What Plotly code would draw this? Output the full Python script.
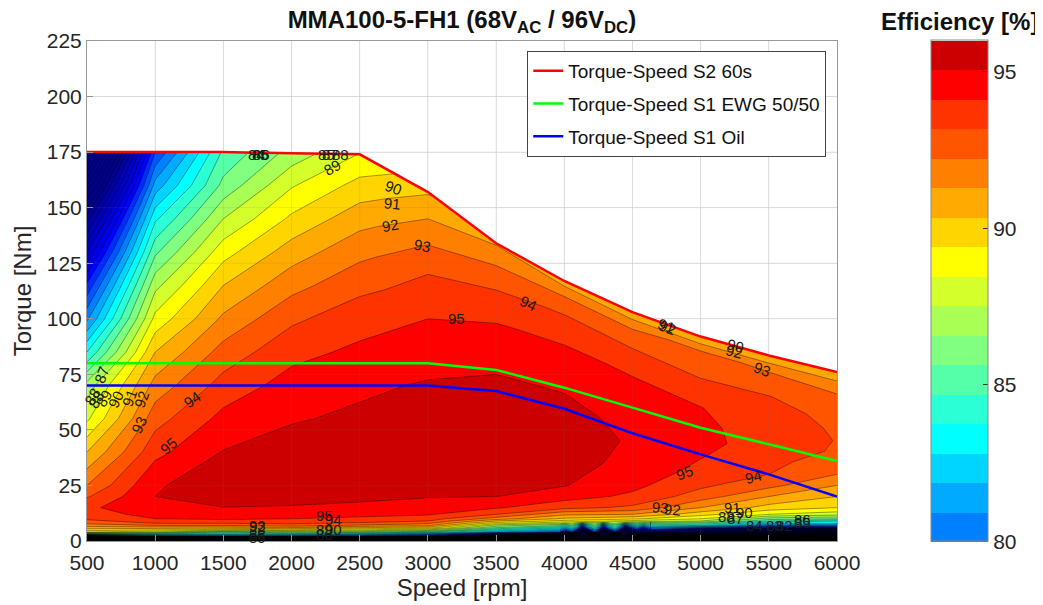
import plotly.graph_objects as go

speeds = [500, 1000, 1500, 2000, 2500, 3000, 3500, 4000, 4500, 5000, 5500, 6000]
low_torque = [0, 1, 2, 3, 4, 5, 6, 7, 8, 9, 10, 12, 15, 20, 25]
# upper torque rows, one list per speed
upper_torque = [
    [40, 55, 70, 85, 100, 115, 130, 145, 160, 175],
    [40, 55, 70, 85, 100, 115, 130, 145, 160, 175],
    [40, 55, 70, 85, 100, 115, 130, 145, 160, 175],
    [40, 55, 70, 85, 100, 115, 130, 145, 160, 174.5],
    [40, 55, 70, 85, 100, 115, 130, 145, 160, 174],
    [40, 55, 70, 85, 100, 110, 120, 132, 145, 157],
    [40, 55, 70, 80, 92, 100, 108, 116, 125, 134],
    [35, 45, 55, 65, 75, 85, 93, 101, 110, 117],
    [35, 45, 55, 62, 70, 77, 84, 91, 97, 103],
    [30, 38, 45, 52, 60, 66, 72, 78, 85, 92],
    [30, 36, 42, 48, 54, 60, 65, 71, 77, 83.5],
    [30, 35, 40, 45, 50, 55, 60, 65, 70, 76],
]
# efficiency per speed, bottom to top
eff_by_speed = [
    [0, 30, 70, 83, 89, 90.5, 91.5, 92.5, 93.2, 93.7, 94.2, 94.6, 94.85, 93.9, 93.0, 91, 88.8, 87.4, 84, 80.8, 78.2, 75, 71.5, 67, 62],
    [0, 45, 78, 84, 88, 90, 91.5, 93, 94, 94.6, 95, 95.3, 95.6, 96.0, 95.9, 94.7, 93.6, 92.4, 91, 89.3, 87.7, 85.8, 83.8, 81.4, 79],
    [0, 50, 79, 83.5, 86, 89.5, 91.5, 93, 94, 94.8, 95.1, 95.5, 95.98, 96.4, 96.5, 96.05, 95.3, 94.4, 93.4, 92.2, 91, 89.6, 88, 86.3, 85.2],
    [0, 50, 79, 84, 87, 90, 92, 93.5, 94.2, 94.8, 95, 95.4, 95.9, 96.4, 96.6, 96.5, 95.9, 95.4, 94.7, 93.8, 92.65, 91.5, 90.2, 88.9, 87.4],
    [0, 50, 78, 83, 86.5, 89, 91, 92.8, 93.8, 94.5, 94.85, 95.2, 95.8, 96.2, 96.6, 96.6, 96.2, 95.8, 95.2, 94.6, 93.7, 92.7, 91.6, 90.35, 89.05],
    [0, 50, 76, 81, 85, 88, 90.5, 92.2, 93.2, 94, 94.5, 95.1, 95.6, 96.05, 96.4, 96.7, 96.4, 96.1, 95.5, 95.0, 94.5, 94.0, 93.1, 92, 90.9],
    [0, 30, 60, 75, 82, 84, 86, 87.5, 89.5, 91, 92.5, 94, 95.1, 96.0, 96.25, 96.6, 96.4, 96.15, 95.85, 95.3, 94.9, 94.4, 93.75, 92.9, 91.9],
    [0, 30, 55, 70, 80, 82, 84, 86, 88, 89.7, 90.8, 92.2, 94.3, 95.4, 96.05, 96.4, 96.45, 96.3, 96.05, 95.7, 95.2, 94.7, 94.1, 93, 91.5],
    [0, 25, 50, 65, 76, 80, 82.5, 84.5, 86.5, 88.7, 90.2, 92, 93.8, 94.8, 95.25, 95.7, 95.9, 95.75, 95.5, 95.2, 94.85, 94.3, 93.5, 92.8, 91],
    [0, 20, 45, 60, 70, 74, 80, 84, 85.8, 88, 89, 90.4, 92, 93.5, 94.2, 94.7, 95.05, 95.35, 95.25, 95.03, 94.6, 94.1, 93.6, 93.15, 91],
    [0, 20, 40, 55, 64, 70, 77, 81, 83, 85, 86.5, 89, 90.6, 92, 93.3, 94.0, 94.25, 94.45, 94.45, 94.4, 94.3, 94.03, 93.5, 92.9, 91],
    [0, 15, 35, 50, 60, 68, 77, 81, 83, 84, 86, 88.4, 90, 91, 92, 93, 93.55, 93.9, 93.97, 93.9, 93.75, 93.5, 93.15, 92.5, 91],
]
# low-torque ripple between 4000 and 4600 rpm
ripple_speed = [3969, 4013, 4057, 4095, 4130, 4178, 4225, 4255, 4284, 4328, 4372, 4410, 4446, 4490, 4533, 4580, 4629]
ripple_torque = [1.5, 3, 4, 5.5, 7, 8.5]
ripple_eff = [
    [42, 42, 42, 42, 42, 42, 42, 42, 42, 42, 42, 42, 40, 40, 40, 40, 38],
    [66, 64, 62, 60, 58, 60, 62, 60, 58, 60, 62, 60, 58, 60, 62, 60, 60],
    [78, 76, 79, 72, 60, 72, 79, 72, 60, 72, 78, 72, 60, 70, 74, 70, 74],
    [82, 81, 83, 80, 72, 80, 83.2, 80, 72, 80, 82.8, 79, 70, 77, 80, 76, 80],
    [85, 84.5, 86, 84, 79, 84, 86, 84, 79, 84, 85.5, 83.5, 79, 82.5, 84, 82, 84],
    [88.8, 88.8, 88.7, 88.6, 88.5, 88.4, 88.3, 88.2, 88.1, 88, 87.9, 87.8, 87.7, 87.6, 87.5, 87.4, 87.3],
]
s2_torque = [175, 175, 175, 174.5, 174, 157, 134, 117, 103, 92, 83.5, 76]
s1_ewg_torque = [80, 80, 80, 80, 80, 80, 77, 69, 60, 51, 43.5, 36]
s1_oil_torque = [70, 70, 70, 70, 70, 70, 67.5, 59.5, 48.5, 39, 30, 20]

# colour of the filled band that starts at each level
band_colors = {
    96: "#cc0000", 95: "#ff0000", 94: "#ff3300", 93: "#ff5500", 92: "#ff8000", 91: "#ffaa00",
    90: "#ffd500", 89: "#ffff00", 88: "#d5ff2b", 87: "#aaff55", 86: "#80ff80", 85: "#55ffaa",
    84: "#2bffd5", 83: "#00ffff", 82: "#00d5ff", 81: "#00aaff", 80: "#0080ff", 79: "#0055ff",
    78: "#002bff", 77: "#0000ff", 76: "#0000e6", 75: "#0000d5", 74: "#0000c4", 73: "#0000b4",
    72: "#0000a4", 71: "#000094", 70: "#000088",
}
bar_levels = [80, 81, 82, 83, 84, 85, 86, 87, 88, 89, 90, 91, 92, 93, 94, 95, 96]

# (text, speed, torque, angle)
labels = [
    ("84", 1745, 174, 0), ("85", 1770, 174, 0), ("86", 1778, 174, 0),
    ("85", 2253, 174, 0), ("87", 2282, 174, 0), ("88", 2362, 174, 0),
    ("89", 2297, 168, -30), ("90", 2744, 159, 20), ("91", 2737, 152, 5),
    ("92", 2722, 142, -10), ("93", 2957, 133, 12), ("94", 3741, 107, 25),
    ("95", 3206, 100, 0), ("95", 1101, 43, -40), ("94", 1270, 63.5, -35),
    ("93", 881, 52.6, -65), ("92", 903, 64, -70), ("91", 808, 64.3, -70),
    ("90", 713, 63.5, -65), ("89", 625, 64, -60), ("88", 570, 63.5, -60),
    ("88", 540, 65, -60), ("87", 603, 74.7, -70), ("95", 4885, 31, -20),
    ("94", 5391, 29, -15), ("93", 5457, 77.4, 20), ("92", 5245, 85.5, 15),
    ("90", 5252, 87.8, 15), ("91", 4746, 97, 20), ("92", 4755, 96, 20),
    ("95", 2245, 11.7, 0), ("94", 2304, 9.5, 0), ("93", 1747, 7.2, 0),
    ("92", 1747, 6.4, 0), ("88", 1747, 3, 0), ("85", 1747, 1.6, 0),
    ("89", 2245, 5, 0), ("90", 2304, 5, 0), ("86", 2245, 2.8, 0),
    ("93", 4702, 15.3, 5), ("92", 4797, 14, 5), ("91", 5237, 15, 0),
    ("90", 5325, 13, 0), ("88", 5193, 11, 0), ("87", 5252, 10, 0),
    ("84", 5398, 7.2, 0), ("83", 5545, 6.8, 0), ("82", 5618, 6.8, 0),
    ("86", 5750, 9.5, 0), ("85", 5750, 8.2, 0),
]
x_ticks = [500, 1000, 1500, 2000, 2500, 3000, 3500, 4000, 4500, 5000, 5500, 6000]
y_ticks = [0, 25, 50, 75, 100, 125, 150, 175, 200, 225]

FONT = "Liberation Sans, Arial, sans-serif"
row_torque = [low_torque + upper for upper in upper_torque]
n_rows = len(row_torque[0])
rows = list(range(n_rows))
x_grid = [list(speeds) for _ in rows]
y_grid = [[row_torque[c][r] for c in range(len(speeds))] for r in rows]
z_grid = [[eff_by_speed[c][r] for c in range(len(speeds))] for r in rows]

start, end, size = 0, 97, 1
nc = (end - start) // size + 1


def band_color(level):
    if level in band_colors:
        return band_colors[level]
    if level > 96:
        return band_colors[96]
    return band_colors[70]


scale = [[0.0, band_color(start)]]
for level in range(start, end + 1):
    t = (level - start + 1) / nc
    if t < 1:
        scale.append([t, band_color(level)])
scale.append([1.0, band_color(end)])

bar_n = len(bar_levels)
bar_scale = []
for i, level in enumerate(bar_levels):
    bar_scale.append([i / bar_n, band_colors[level]])
    bar_scale.append([(i + 1) / bar_n, band_colors[level]])

contour_line = dict(color="rgba(0,0,0,0.75)", width=0.5, smoothing=0)
fig = go.Figure()
axis_off = dict(showgrid=False, showticklabels="none", showline=False,
                startline=False, endline=False, minorgridcount=0, smoothing=0)
fig.add_trace(go.Carpet(a=speeds, b=rows, x=x_grid, y=y_grid, carpet="map",
                        aaxis=axis_off, baxis=axis_off))
fig.add_trace(go.Contourcarpet(a=speeds, b=rows, z=z_grid, carpet="map", autocontour=False,
                               contours=dict(start=start, end=end, size=size, coloring="fill"),
                               colorscale=scale, showscale=False, line=contour_line,
                               showlegend=False))
fig.add_trace(go.Contour(x=ripple_speed, y=ripple_torque, z=ripple_eff, autocontour=False,
                         contours=dict(start=start, end=end, size=size, coloring="fill"),
                         colorscale=scale, zmin=0, zmax=97, showscale=False,
                         line=contour_line, hoverinfo="skip"))
for name, vals, col in [("Torque-Speed S2 60s", s2_torque, "#ff0000"),
                        ("Torque-Speed S1 EWG 50/50", s1_ewg_torque, "#00ff00"),
                        ("Torque-Speed S1 Oil", s1_oil_torque, "#0000ff")]:
    fig.add_trace(go.Scatter(x=speeds, y=vals, mode="lines", name=name, legendgroup=name,
                             line=dict(color=col, width=2.5)))
fig.add_trace(go.Scatter(x=[None, None], y=[None, None], mode="markers", showlegend=False,
                         marker=dict(color=[80, 96], cmin=80, cmax=96, colorscale=bar_scale,
                                     showscale=True,
                                     colorbar=dict(thickness=57, thicknessmode="pixels",
                                                   len=501, lenmode="pixels", x=1.125, xanchor="left",
                                                   y=0.5, yanchor="middle", xpad=0, ypad=0,
                                                   outlinecolor="#888888", outlinewidth=1,
                                                   tickvals=[80, 85, 90, 95], ticks="inside",
                                                   ticklen=5, tickcolor="#333333",
                                                   tickfont=dict(family=FONT, size=21, color="#262626")))))

annotations = [dict(x=s, y=t, text=txt, textangle=ang, showarrow=False,
                    font=dict(family=FONT, size=15, color="#1a1a1a"))
               for txt, s, t, ang in labels]
annotations.append(dict(xref="paper", yref="paper", x=1.1627, y=1.038, text="<b>Efficiency [%]</b>",
                        showarrow=False, xanchor="center", yanchor="middle",
                        font=dict(family=FONT, size=24, color="#111111")))

# faint grid showing through the fills
shapes = [dict(type="line", xref="x", yref="paper", x0=v, x1=v, y0=0, y1=1,
               line=dict(color="rgba(110,110,110,0.14)", width=1)) for v in x_ticks[1:-1]]
shapes += [dict(type="line", xref="paper", yref="y", x0=0, x1=1, y0=v, y1=v,
                line=dict(color="rgba(110,110,110,0.14)", width=1)) for v in y_ticks[1:-1]]

grid = "#ececec"
axis = dict(showgrid=True, gridcolor=grid, gridwidth=1, zeroline=False, showline=True,
            linecolor="#999999", linewidth=1, mirror=True, ticks="inside", ticklen=6,
            tickcolor="#999999", tickfont=dict(family=FONT, size=21, color="#262626"))
fig.update_layout(
    width=1035, height=597, autosize=False,
    margin=dict(l=79, r=206, t=33, b=64, autoexpand=False),
    paper_bgcolor="white", plot_bgcolor="white",
    title=dict(text="<b>MMA100-5-FH1 (68V<sub>AC</sub> / 96V<sub>DC</sub>)</b>", x=0.4386, xanchor="center",
               y=0.98, yanchor="middle", font=dict(family=FONT, size=24, color="#111111")),
    xaxis=dict(axis, range=[500, 6000], tickvals=x_ticks, ticklabelstandoff=3,
               title=dict(text="Speed [rpm]", standoff=1, font=dict(family=FONT, size=24, color="#262626"))),
    yaxis=dict(axis, range=[0, 225], tickvals=y_ticks,
               title=dict(text="Torque [Nm]", standoff=8, font=dict(family=FONT, size=24, color="#262626"))),
    legend=dict(x=0.587, y=0.98, xanchor="left", yanchor="top", bgcolor="white",
                bordercolor="#444444", borderwidth=1, tracegroupgap=5, itemwidth=30,
                font=dict(family=FONT, size=19, color="#111111")),
    annotations=annotations, shapes=shapes,
)
fig.write_html("out.html")
